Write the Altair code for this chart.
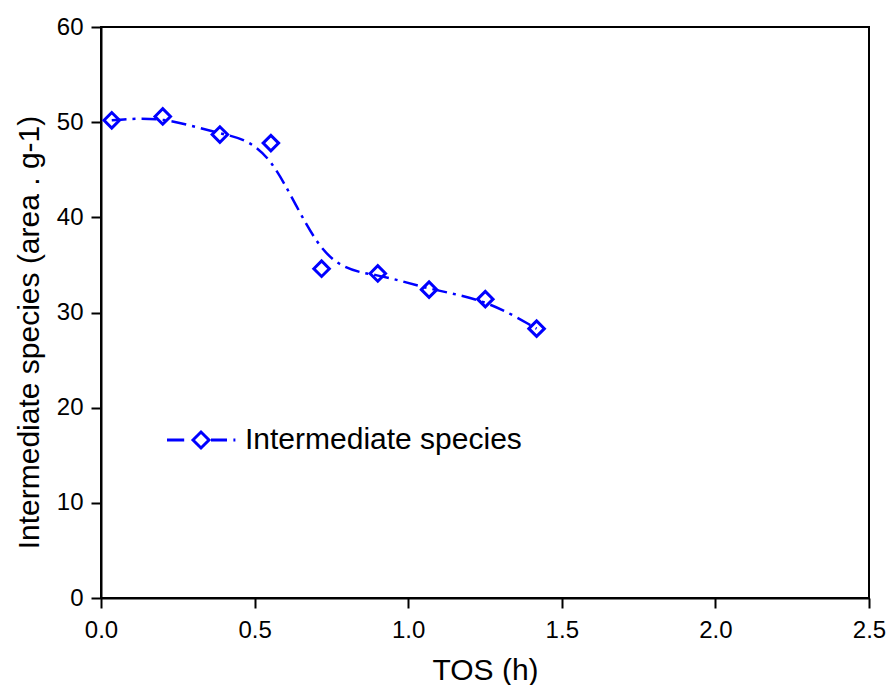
import altair as alt
import pandas as pd

# Data
tos_h = [0.035, 0.201, 0.387, 0.553, 0.718, 0.901, 1.068, 1.251, 1.418]
species = [50.2, 50.6, 48.7, 47.8, 34.6, 34.1, 32.4, 31.4, 28.3]
series_name = "Intermediate species"

df = pd.DataFrame({"TOS": tos_h, "val": species, "series": [series_name] * len(tos_h)})

BLUE = "#0000ff"
FONT = "Liberation Sans"

x_enc = alt.X("TOS:Q", scale=alt.Scale(domain=[0, 2.5], nice=False),
              axis=alt.Axis(title="TOS (h)", values=[0, 0.5, 1.0, 1.5, 2.0, 2.5], format=".1f"))
y_enc = alt.Y("val:Q", scale=alt.Scale(domain=[0, 60], nice=False),
              axis=alt.Axis(title="Intermediate species (area . g-1)",
                            values=[0, 10, 20, 30, 40, 50, 60], titleY=305))

line = alt.Chart(df).mark_line(
    color=BLUE, interpolate="basis", strokeDash=[15, 6, 3, 6], strokeWidth=2.5
).encode(x=x_enc, y=y_enc)

points = alt.Chart(df).mark_point(
    shape="diamond", filled=False, color=BLUE, size=240, strokeWidth=3, opacity=1
).encode(x=x_enc, y=y_enc)

legend_path = ("M-1,0L0,-1L1,0L0,1Z "
               "M-4.25,0L-2.1,0 M1.25,0L3.25,0 M4.05,0L4.3,0")

legend_layer = alt.Chart(df).mark_point(opacity=0, filled=False).encode(
    x=x_enc, y=y_enc,
    color=alt.Color("series:N", scale=alt.Scale(range=[BLUE]),
                    legend=alt.Legend(title=None, orient="none", legendX=85, legendY=398,
                                      symbolType=legend_path, symbolSize=256,
                                      symbolStrokeWidth=3, symbolStrokeColor=BLUE,
                                      symbolFillColor="transparent", symbolOpacity=1,
                                      labelFont=FONT, labelFontSize=30, labelColor="#000000",
                                      labelOffset=29, labelLimit=0, padding=0)),
)

chart = alt.layer(line, points, legend_layer).properties(
    width=768, height=571,
    autosize=alt.AutoSizeParams(type="none"),
    padding={"left": 93, "top": 19, "right": 19, "bottom": 87},
).configure_view(
    stroke="black", strokeWidth=2
).configure_axis(
    grid=False, domainColor="black", domainWidth=2, tickColor="black", tickWidth=2,
    tickSize=10, labelFont=FONT, labelFontSize=24, labelColor="black", labelFlush=False,
    titleFont=FONT, titleFontSize=30, titleFontWeight="normal", titleColor="black",
).configure_axisY(
    titlePadding=12, labelPadding=8
).configure_axisX(
    titlePadding=13, labelPadding=10
)

chart.save("out.html", embed_options={"renderer": "svg", "actions": False})
